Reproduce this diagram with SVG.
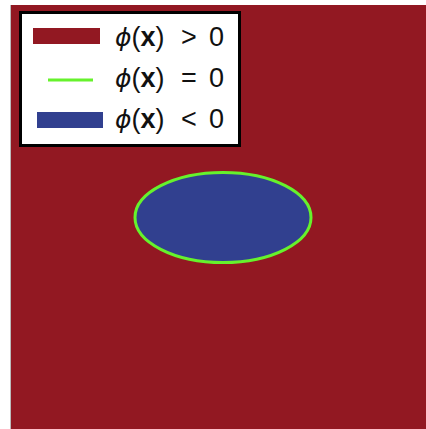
<svg xmlns="http://www.w3.org/2000/svg" width="426" height="429" viewBox="0 0 426 429">
<style>
.lbl{font-family:"Liberation Sans","DejaVu Sans",sans-serif;font-size:27px;fill:#111}
.phi{font-style:italic;font-family:"DejaVu Sans",sans-serif;font-size:25px}
.bx{font-weight:bold}
</style>
<rect width="426" height="429" fill="#ffffff"/>
<g id="field">
<rect x="11" y="5" width="415" height="424" fill="#921822"/>
<line x1="10.5" y1="5" x2="10.5" y2="429" stroke="#bbbbbb" stroke-width="1"/>
</g>
<g id="region">
<ellipse cx="223" cy="217.5" rx="88" ry="45" fill="#31408f" stroke="#66f22c" stroke-width="3"/>
</g>
<g id="legend">
<rect x="20.5" y="12.5" width="219" height="133" fill="#ffffff" stroke="#000000" stroke-width="3"/>
<rect x="33" y="28" width="67" height="16" fill="#921822"/>
<line x1="48" y1="80" x2="93" y2="80" stroke="#66f22c" stroke-width="3"/>
<rect x="37" y="112" width="66" height="16" fill="#31408f"/>
<text class="lbl" x="115" y="46"><tspan class="phi">ϕ</tspan>(<tspan class="bx">x</tspan>)<tspan x="181">&gt;</tspan><tspan x="209">0</tspan></text>
<text class="lbl" x="115" y="87"><tspan class="phi">ϕ</tspan>(<tspan class="bx">x</tspan>)<tspan x="181">=</tspan><tspan x="209">0</tspan></text>
<text class="lbl" x="115" y="128"><tspan class="phi">ϕ</tspan>(<tspan class="bx">x</tspan>)<tspan x="181">&lt;</tspan><tspan x="209">0</tspan></text>
</g>
</svg>
